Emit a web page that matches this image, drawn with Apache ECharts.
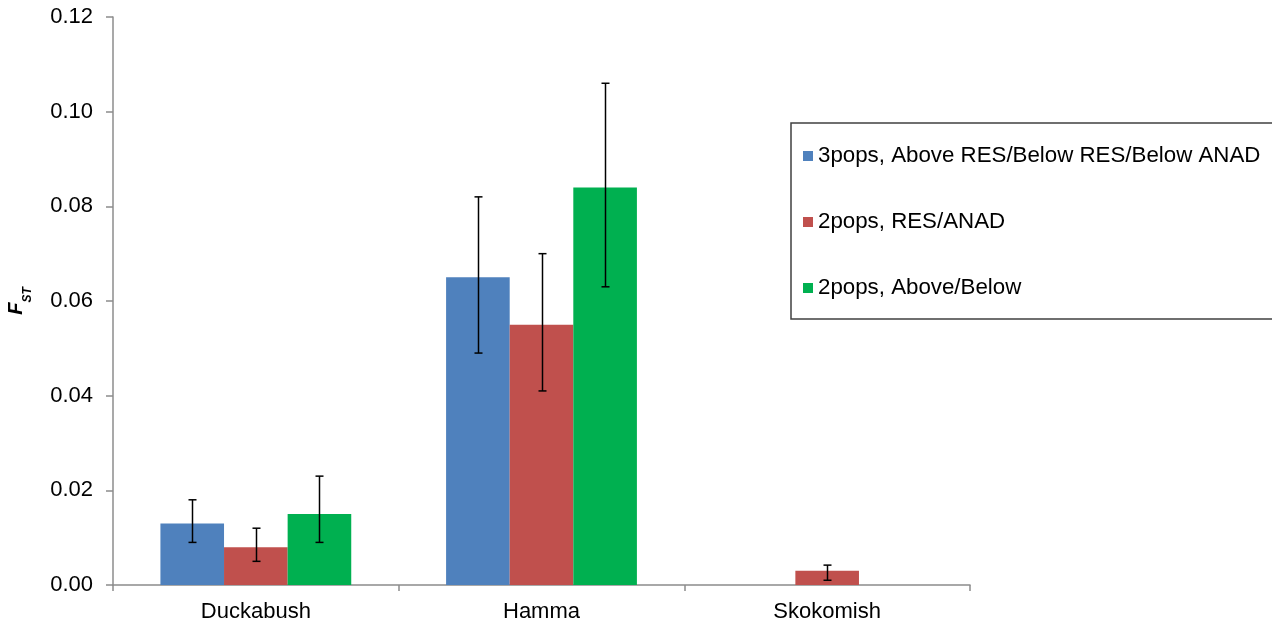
<!DOCTYPE html>
<html>
<head>
<meta charset="utf-8">
<script src="https://cdn.jsdelivr.net/npm/echarts@6/dist/echarts.min.js"></script>
<style>
html,body{margin:0;padding:0;background:#fff;}
#chart{width:1272px;height:623px;}
</style>
</head>
<body>
<div id="chart"></div>
<script>
const categories = ['Duckabush', 'Hamma', 'Skokomish'];
const seriesNames = ['3pops, Above RES/Below RES/Below ANAD', '2pops, RES/ANAD', '2pops, Above/Below'];
const blueValues = [0.013, 0.065, null];
const redValues = [0.008, 0.055, 0.003];
const greenValues = [0.015, 0.084, null];
const blueLow = [0.009, 0.049, null];
const blueHigh = [0.018, 0.082, null];
const redLow = [0.005, 0.041, 0.001];
const redHigh = [0.012, 0.070, 0.0042];
const greenLow = [0.009, 0.063, null];
const greenHigh = [0.023, 0.106, null];
const yTicks = [0, 0.02, 0.04, 0.06, 0.08, 0.10, 0.12];

const colors = ['#4F81BD', '#C0504D', '#00B050'];
const values = [blueValues, redValues, greenValues];
const lows = [blueLow, redLow, greenLow];
const highs = [blueHigh, redHigh, greenHigh];
const GAP = 0.332;
const FONT = '"Liberation Sans", Arial, sans-serif';

const chart = echarts.init(document.getElementById('chart'), null, {renderer: 'canvas'});

const series = [];
values.forEach((v, i) => {
  series.push({
    name: seriesNames[i],
    type: 'bar',
    data: v,
    barGap: '0%',
    barCategoryGap: (GAP * 100) + '%',
    itemStyle: {color: colors[i]},
    emphasis: {disabled: true},
    z: 2
  });
});
values.forEach((v, i) => {
  const data = [];
  categories.forEach((c, k) => {
    if (lows[i][k] != null) data.push([k, lows[i][k], highs[i][k]]);
  });
  series.push({
    name: 'err' + i,
    type: 'custom',
    z: 5,
    silent: true,
    data: data,
    encode: {x: 0, y: [1, 2]},
    renderItem: function (params, api) {
      const k = api.value(0);
      const lo = api.coord([k, api.value(1)]);
      const hi = api.coord([k, api.value(2)]);
      const band = api.size([1, 0])[0];
      const bw = band * (1 - GAP) / 3;
      const x = Math.round(lo[0] + (i - 1) * bw) + 0.5;
      const cap = 4;
      const st = {stroke: '#000', lineWidth: 1.5};
      return {
        type: 'group',
        children: [
          {type: 'line', shape: {x1: x, y1: lo[1], x2: x, y2: hi[1]}, style: st},
          {type: 'line', shape: {x1: x - cap, y1: lo[1], x2: x + cap, y2: lo[1]}, style: st},
          {type: 'line', shape: {x1: x - cap, y1: hi[1], x2: x + cap, y2: hi[1]}, style: st}
        ]
      };
    }
  });
});

chart.setOption({
  animation: false,
  backgroundColor: '#fff',
  textStyle: {fontFamily: FONT},
  grid: {left: 113, right: 302, top: 17, bottom: 38, containLabel: false, outerBoundsMode: 'none'},
  legend: {
    data: seriesNames,
    orient: 'vertical',
    left: 791,
    top: 123,
    selectedMode: false,
    icon: 'rect',
    itemWidth: 10,
    itemHeight: 10,
    itemGap: 44,
    borderColor: '#404040',
    borderWidth: 1.5,
    padding: [22, 40, 20, 12],
    textStyle: {fontFamily: FONT, fontSize: 22.3, color: '#000', lineHeight: 20, padding: [0, 0, 0, 0]}
  },
  xAxis: {
    type: 'category',
    data: categories,
    axisLine: {lineStyle: {color: '#8c8c8c', width: 1.5}},
    axisTick: {show: true, length: 6, inside: false, alignWithLabel: false, lineStyle: {color: '#8c8c8c', width: 1.5}},
    axisLabel: {fontFamily: FONT, fontSize: 22, color: '#000', margin: 16}
  },
  yAxis: {
    type: 'value',
    min: 0,
    max: 0.12,
    interval: 0.02,
    splitLine: {show: false},
    axisLine: {show: true, lineStyle: {color: '#8c8c8c', width: 1.5}},
    axisTick: {show: true, length: 7, lineStyle: {color: '#8c8c8c', width: 1.5}},
    axisLabel: {
      fontFamily: FONT, fontSize: 22, color: '#000', margin: 20,
      formatter: function (v) {
        const t = yTicks.find(a => Math.abs(a - v) < 1e-9);
        return (t != null ? t : v).toFixed(2);
      }
    },
    name: '{f|F}{s|ST}',
    nameLocation: 'middle',
    nameRotate: 90,
    nameGap: 79,
    nameTextStyle: {
      rich: {
        f: {fontFamily: FONT, fontSize: 20, fontWeight: 'bold', fontStyle: 'italic', color: '#000', verticalAlign: 'top', lineHeight: 28},
        s: {fontFamily: FONT, fontSize: 12, fontWeight: 'bold', fontStyle: 'italic', color: '#000', verticalAlign: 'bottom', lineHeight: 12}
      }
    }
  },
  series: series
});
</script>
</body>
</html>
